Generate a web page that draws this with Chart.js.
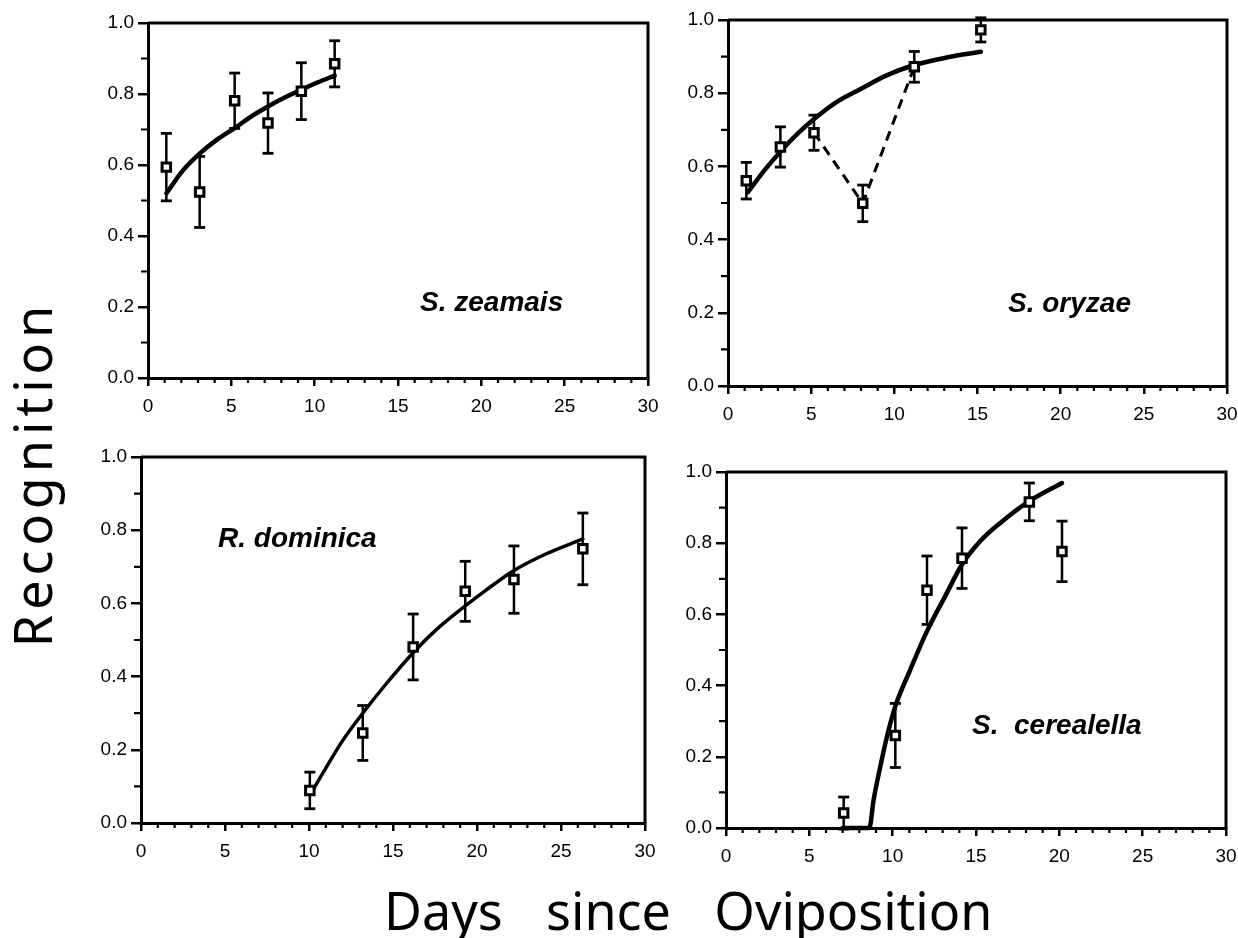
<!DOCTYPE html>
<html lang="en">
<head>
  <meta charset="UTF-8">
  <title>Recognition by days since oviposition</title>
  <script src="https://cdn.jsdelivr.net/npm/chart.js@4.4.1/dist/chart.umd.min.js"></script>
  <style>
    body {
      margin: 0;
      background: #fff;
      width: 1238px;
      height: 938px;
      position: relative;
      overflow: hidden;
    }
    canvas.panel {
      position: absolute;
    }
    .species {
      position: absolute;
      font: italic bold 28px "Liberation Sans", Arial, sans-serif;
      line-height: 1;
      white-space: pre;
      color: #000;
    }
    .axis-title {
      position: absolute;
      font-family: "Noto Sans", sans-serif;
      font-size: 52px;
      line-height: 1;
      height: 52px;
      white-space: nowrap;
      color: #000;
    }
    #yTitle {
      left: -168px;
      top: 448px;
      width: 400px;
      text-align: center;
      letter-spacing: 5px;
      transform: rotate(-90deg);
    }
    #xTitle {
      left: 384px;
      top: 884px;
      word-spacing: 30px;
    }
  </style>
</head>
<body>
  <canvas id="zeamais" class="panel" width="576" height="411" style="left:86px;top:11px"></canvas>
  <canvas id="oryzae" class="panel" width="575" height="422" style="left:666px;top:8px"></canvas>
  <canvas id="dominica" class="panel" width="580" height="422" style="left:79px;top:445px"></canvas>
  <canvas id="cerealella" class="panel" width="576" height="412" style="left:664px;top:460px"></canvas>

  <div class="species" style="left:420px;top:288px">S. zeamais</div>
  <div class="species" style="left:1008px;top:289px">S. oryzae</div>
  <div class="species" style="left:218px;top:524px">R. dominica</div>
  <div class="species" style="left:972px;top:711px">S.  cerealella</div>

  <div id="yTitle" class="axis-title">Recognition</div>
  <div id="xTitle" class="axis-title">Days since Oviposition</div>

  <script>
    // axis ticks
    const dayTicks = [0, 5, 10, 15, 20, 25, 30];
    const recTicks = [0, 0.2, 0.4, 0.6, 0.8, 1.0];

    // S. zeamais
    const zeaDays = [1.1, 3.1, 5.2, 7.2, 9.2, 11.2];
    const zeaRec = [0.594, 0.524, 0.781, 0.718, 0.808, 0.885];
    const zeaErr = [0.095, 0.10, 0.078, 0.085, 0.08, 0.065];
    const zeaFitDays = [1.1, 2.1, 3.1, 4.1, 5.2, 6.2, 7.2, 8.2, 9.2, 10.2, 11.2];
    const zeaFitRec = [0.52, 0.585, 0.632, 0.67, 0.704, 0.737, 0.765, 0.79, 0.812, 0.833, 0.852];

    // S. oryzae
    const oryDays = [1.1, 3.15, 5.17, 8.1, 11.2, 15.2];
    const oryRec = [0.561, 0.653, 0.692, 0.499, 0.872, 0.973];
    const oryErr = [0.05, 0.055, 0.048, 0.05, 0.042, 0.033];
    const oryFitDays = [1.2, 2.2, 3.2, 4.2, 5.3, 6.5, 8, 9.5, 11.2, 13.2, 15.2];
    const oryFitRec = [0.53, 0.59, 0.643, 0.69, 0.734, 0.775, 0.812, 0.848, 0.877, 0.898, 0.913];
    const oryDashDays = [5.17, 8.1, 11.2];
    const oryDashRec = [0.692, 0.499, 0.872];

    // R. dominica
    const domDays = [10.05, 13.2, 16.2, 19.3, 22.2, 26.3];
    const domRec = [0.089, 0.246, 0.481, 0.633, 0.665, 0.749];
    const domErr = [0.05, 0.075, 0.09, 0.082, 0.092, 0.098];
    const domFitDays = [10.1, 11, 12, 13.2, 14.5, 16.2, 17.5, 19.3, 20.5, 22.2, 24, 26.3];
    const domFitRec = [0.08, 0.15, 0.225, 0.30, 0.375, 0.465, 0.525, 0.593, 0.635, 0.69, 0.733, 0.776];

    // S. cerealella
    const cerDays = [7.06, 10.16, 12.06, 14.16, 18.2, 20.16];
    const cerRec = [0.042, 0.26, 0.668, 0.758, 0.916, 0.777];
    const cerErr = [0.045, 0.09, 0.096, 0.085, 0.053, 0.085];
    const cerFitDays = [7.0, 8.6, 8.86, 9.26, 9.66, 10.16, 11.06, 12.06, 13.16, 14.16, 15.26, 16.46, 18.2, 20.16];
    const cerFitRec = [0, 0, 0.08, 0.173, 0.257, 0.342, 0.445, 0.553, 0.652, 0.74, 0.806, 0.857, 0.918, 0.969];

    function pairs(xs, ys) {
      return xs.map((x, i) => ({ x: x, y: ys[i] }));
    }

    function bars(xs, ys, es) {
      const out = [];
      xs.forEach((x, i) => {
        out.push({ x: x, y: ys[i] - es[i] }, { x: x, y: ys[i] + es[i] }, { x: x, y: null });
      });
      return out;
    }

    function markers(xs, ys) {
      return {
        data: pairs(xs, ys),
        showLine: false,
        pointStyle: 'rect',
        pointRadius: 6,
        pointBorderWidth: 3,
        pointBackgroundColor: '#fff',
        pointBorderColor: '#000',
        clip: false
      };
    }

    function errors(xs, ys, es) {
      return {
        data: bars(xs, ys, es),
        showLine: true,
        spanGaps: false,
        borderColor: '#000',
        borderWidth: 2.5,
        pointStyle: 'line',
        pointRadius: 5.5,
        pointBorderWidth: 2.8,
        pointBorderColor: '#000',
        clip: false
      };
    }

    function fit(xs, ys, width) {
      return {
        data: pairs(xs, ys),
        showLine: true,
        borderColor: '#000',
        borderWidth: width,
        borderCapStyle: 'round',
        cubicInterpolationMode: 'monotone',
        pointRadius: 0,
        clip: false
      };
    }

    function dashed(xs, ys) {
      return {
        data: pairs(xs, ys),
        showLine: true,
        borderColor: '#000',
        borderWidth: 3,
        borderDash: [10, 7],
        tension: 0,
        pointRadius: 0
      };
    }

    // top and right sides of the box, plus the short minor ticks
    const framePlugin = {
      id: 'frame',
      afterDraw(chart) {
        const ctx = chart.ctx;
        const a = chart.chartArea;
        const x = chart.scales.x;
        const y = chart.scales.y;
        ctx.save();
        ctx.strokeStyle = '#000';
        ctx.lineWidth = 3;
        ctx.beginPath();
        ctx.moveTo(a.left, a.top);
        ctx.lineTo(a.right, a.top);
        ctx.lineTo(a.right, a.bottom);
        ctx.stroke();
        ctx.lineWidth = 2.2;
        ctx.beginPath();
        for (let d = 1; d < 30; d++) {
          if (d % 5 === 0) continue;
          const px = x.getPixelForValue(d);
          ctx.moveTo(px, a.bottom);
          ctx.lineTo(px, a.bottom + 5);
        }
        for (let k = 1; k < 10; k += 2) {
          const py = y.getPixelForValue(k / 10);
          ctx.moveTo(a.left - 7, py);
          ctx.lineTo(a.left, py);
        }
        ctx.stroke();
        ctx.restore();
      }
    };

    const tickFont = { family: '"Liberation Sans", Arial, sans-serif', size: 19 };

    function makePanel(id, datasets) {
      new Chart(document.getElementById(id), {
        type: 'scatter',
        data: { datasets: datasets },
        options: {
          responsive: false,
          animation: false,
          events: [],
          layout: { padding: { left: 0, top: 12, right: 14, bottom: 0 } },
          plugins: { legend: { display: false }, tooltip: { enabled: false } },
          scales: {
            x: {
              type: 'linear',
              min: dayTicks[0],
              max: dayTicks[dayTicks.length - 1],
              afterBuildTicks: s => { s.ticks = dayTicks.map(v => ({ value: v })); },
              afterFit: s => { s.height = 44; s.paddingLeft = 0; s.paddingRight = 0; },
              grid: { drawOnChartArea: false, color: '#000', lineWidth: 2.5, tickLength: 8 },
              border: { color: '#000', width: 3 },
              ticks: { color: '#000', font: tickFont, padding: 9, maxRotation: 0 }
            },
            y: {
              type: 'linear',
              min: recTicks[0],
              max: recTicks[recTicks.length - 1],
              afterBuildTicks: s => { s.ticks = recTicks.map(v => ({ value: v })); },
              afterFit: s => { s.width = 62; s.paddingTop = 0; s.paddingBottom = 0; },
              grid: { drawOnChartArea: false, color: '#000', lineWidth: 2.5, tickLength: 10 },
              border: { color: '#000', width: 3 },
              ticks: { color: '#000', font: tickFont, padding: 4, callback: v => v.toFixed(1) }
            }
          }
        },
        plugins: [framePlugin]
      });
    }

    makePanel('zeamais', [
      markers(zeaDays, zeaRec),
      fit(zeaFitDays, zeaFitRec, 4.5),
      errors(zeaDays, zeaRec, zeaErr)
    ]);

    makePanel('oryzae', [
      markers(oryDays, oryRec),
      fit(oryFitDays, oryFitRec, 4.5),
      dashed(oryDashDays, oryDashRec),
      errors(oryDays, oryRec, oryErr)
    ]);

    makePanel('dominica', [
      markers(domDays, domRec),
      fit(domFitDays, domFitRec, 3.5),
      errors(domDays, domRec, domErr)
    ]);

    makePanel('cerealella', [
      markers(cerDays, cerRec),
      fit(cerFitDays, cerFitRec, 4.5),
      errors(cerDays, cerRec, cerErr)
    ]);
  </script>
</body>
</html>
